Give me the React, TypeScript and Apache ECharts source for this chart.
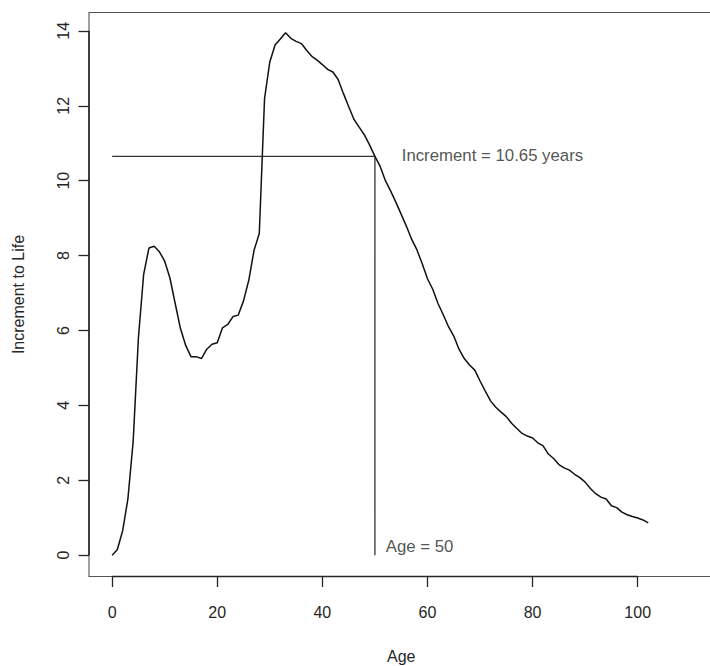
import React, { useEffect, useRef } from "react";
import * as echarts from "echarts";

const ages = [
  0, 1, 2, 3, 4, 5, 6, 7, 8, 9, 10, 11, 12, 13, 14, 15, 16, 17, 18, 19, 20,
  21, 22, 23, 24, 25, 26, 27, 28, 29, 30, 31, 32, 33, 34, 35, 36, 37, 38, 39, 40,
  41, 42, 43, 44, 45, 46, 47, 48, 49, 50, 51, 52, 53, 54, 55, 56, 57, 58, 59, 60,
  61, 62, 63, 64, 65, 66, 67, 68, 69, 70, 71, 72, 73, 74, 75, 76, 77, 78, 79, 80,
  81, 82, 83, 84, 85, 86, 87, 88, 89, 90, 91, 92, 93, 94, 95, 96, 97, 98, 99, 100,
  101, 102,
];

const increment = [
  0, 0.15, 0.65, 1.5, 3.03, 5.8, 7.5, 8.2, 8.25, 8.1, 7.85,
  7.4, 6.72, 6.05, 5.6, 5.3, 5.3, 5.25, 5.5, 5.63, 5.67,
  6.07, 6.16, 6.37, 6.41, 6.79, 7.34, 8.14, 8.59, 12.19, 13.17,
  13.62, 13.78, 13.95, 13.8, 13.72, 13.66, 13.48, 13.32, 13.22, 13.1,
  12.97, 12.9, 12.7, 12.33, 11.98, 11.64, 11.43, 11.22, 10.95, 10.65,
  10.38, 10.0, 9.72, 9.42, 9.1, 8.78, 8.43, 8.15, 7.78, 7.38,
  7.1, 6.72, 6.42, 6.1, 5.85, 5.5, 5.25, 5.08, 4.94, 4.65,
  4.38, 4.12, 3.95, 3.82, 3.7, 3.52, 3.38, 3.25, 3.18, 3.13,
  3.0, 2.92, 2.7, 2.58, 2.42, 2.33, 2.27, 2.16, 2.07, 1.95,
  1.78, 1.64, 1.55, 1.5, 1.32, 1.27, 1.15, 1.08, 1.03, 0.99,
  0.94, 0.86,
];

const xTicks = [0, 20, 40, 60, 80, 100];
const yTicks = [0, 2, 4, 6, 8, 10, 12, 14];

const xMin = -4.4;
const xMax = 114.4;
const yMin = -0.57;
const yMax = 14.49;

const refAge = 50;
const refIncrement = 10.65;
const incrementLabel = "Increment = 10.65 years";
const ageLabel = "Age = 50";
const incrementLabelPos = [55.1, 10.68];
const ageLabelPos = [52.05, 0.22];

const FONT = "'Liberation Sans', Arial, Helvetica, sans-serif";
const INK = "#262626";

export default function App() {
  const ref = useRef<HTMLDivElement>(null);

  useEffect(() => {
    if (!ref.current) return;
    const chart = echarts.init(ref.current, undefined, { renderer: "svg" });
    const curve = ages.map((a, i) => [a, increment[i]]);
    chart.setOption({
      animation: false,
      backgroundColor: "#ffffff",
      textStyle: { fontFamily: FONT },
      grid: {
        left: 89,
        top: 12.5,
        width: 624.4,
        height: 564,
        show: true,
        borderColor: "#555",
        borderWidth: 1.1,
        backgroundColor: "transparent",
      },
      xAxis: {
        type: "value",
        min: xMin,
        max: xMax,
        axisLine: { show: false, onZero: false },
        splitLine: { show: false },
        axisTick: {
          show: true,
          inside: false,
          length: 10.5,
          customValues: xTicks,
          lineStyle: { color: INK, width: 1.3 },
        },
        axisLabel: {
          customValues: xTicks,
          margin: 28,
          fontSize: 16,
          color: INK,
          fontFamily: FONT,
        },
      },
      yAxis: {
        type: "value",
        min: yMin,
        max: yMax,
        axisLine: { show: false, onZero: false },
        splitLine: { show: false },
        axisTick: {
          show: true,
          inside: false,
          length: 10.5,
          customValues: yTicks,
          lineStyle: { color: INK, width: 1.3 },
        },
        axisLabel: {
          customValues: yTicks,
          rotate: 90,
          align: "center",
          verticalAlign: "bottom",
          margin: 18,
          fontSize: 16,
          color: INK,
          fontFamily: FONT,
        },
      },
      graphic: [
        {
          type: "text",
          left: 401 - 14,
          top: 648,
          style: { text: "Age", fontSize: 16, fill: INK, fontFamily: FONT },
        },
        {
          type: "text",
          x: 18,
          y: 294.5,
          rotation: Math.PI / 2,
          style: {
            text: "Increment to Life",
            fontSize: 16,
            fill: INK,
            fontFamily: FONT,
            align: "center",
            verticalAlign: "middle",
          },
        },
      ],
      series: [
        {
          type: "line",
          data: [
            [xTicks[0], yMin],
            [xTicks[xTicks.length - 1], yMin],
          ],
          symbol: "none",
          clip: false,
          silent: true,
          lineStyle: { color: INK, width: 1.6 },
        },
        {
          type: "line",
          data: [
            [xMin, yTicks[0]],
            [xMin, yTicks[yTicks.length - 1]],
          ],
          symbol: "none",
          clip: false,
          silent: true,
          lineStyle: { color: INK, width: 1.6 },
        },
        {
          type: "line",
          data: [
            [0, refIncrement],
            [refAge, refIncrement],
            [refAge, 0],
          ],
          symbol: "none",
          silent: true,
          lineStyle: { color: "#333", width: 1.3 },
        },
        {
          type: "line",
          data: curve,
          symbol: "none",
          silent: true,
          lineStyle: { color: "#111", width: 1.5 },
        },
        {
          type: "scatter",
          symbolSize: 0,
          silent: true,
          data: [
            { value: incrementLabelPos, label: { formatter: incrementLabel } },
            { value: ageLabelPos, label: { formatter: ageLabel } },
          ],
          label: {
            show: true,
            position: "right",
            distance: 0,
            fontSize: 16.8,
            color: INK,
            fontFamily: FONT,
          },
        },
      ],
    });
    return () => chart.dispose();
  }, []);

  return (
    <div
      style={{
        position: "fixed",
        left: 0,
        top: 0,
        width: 710,
        height: 666,
        overflow: "hidden",
        background: "#fff",
      }}
    >
      <div ref={ref} style={{ width: 730, height: 666 }} />
    </div>
  );
}
